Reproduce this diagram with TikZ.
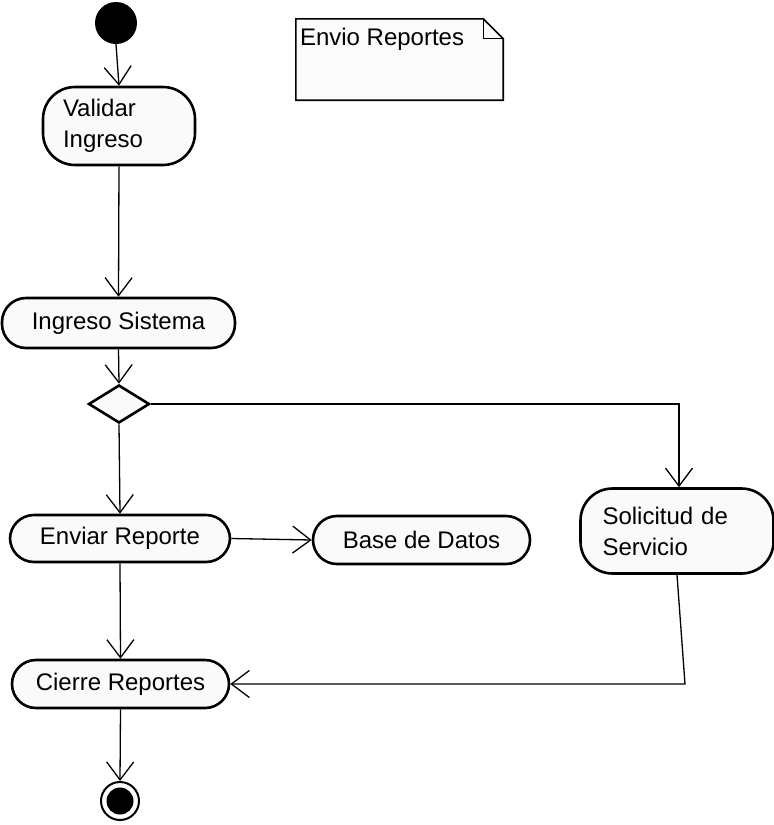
\documentclass[tikz,border=0pt]{standalone}
\usepackage{fontspec}
\setmainfont{Liberation Sans}
\usetikzlibrary{arrows.meta,shapes.geometric,calc}
\begin{document}
\begin{tikzpicture}[x=1pt,y=-1pt,
  font=\fontsize{24}{31}\selectfont,
  act/.style={draw=black, line width=2.6pt, fill=gray!4, rounded corners=24pt,
    inner sep=0pt, align=center},
  actl/.style={act, align=left, inner xsep=20pt, rounded corners=32pt},
  flow/.style={line width=1.3pt, -{Straight Barb[length=18pt,width=27pt,line width=1.3pt]}},
  plain/.style={line width=1.3pt}]
\useasboundingbox (0,0) rectangle (774,825);

% initial and final states
\node[circle, fill=black, minimum size=42pt, inner sep=0pt] (start) at (116,23) {};
\node[circle, draw=black, line width=2pt, minimum size=38pt, inner sep=0pt] (stop) at (120,801) {};
\node[circle, fill=black, minimum size=27pt, inner sep=0pt] (stopdot) at (120,801) {};

% activities
\node[actl, text width=112pt, minimum height=78pt] (validar) at (119,126) {Validar\\Ingreso};
\node[act, minimum width=233pt, minimum height=50pt] (ingreso) at (118.5,323) {Ingreso Sistema};
\node[diamond, draw=black, line width=2.6pt, fill=gray!4, minimum width=61pt, minimum height=38pt, inner sep=0pt, aspect=1.6] (dec) at (119,404) {};
\node[act, minimum width=220pt, minimum height=47pt] (enviar) at (120,538.5) {Enviar Reporte};
\node[act, minimum width=217pt, minimum height=48pt] (base) at (421.5,540) {Base de Datos};
\node[actl, inner xsep=22pt, text width=149pt, minimum height=85pt] (solicitud) at (677,531) {Solicitud de\\Servicio};
\node[act, minimum width=217pt, minimum height=48pt] (cierre) at (120.5,684) {Cierre Reportes};

% note
\node[minimum width=207pt, minimum height=81pt, inner sep=0pt] (note) at (399.5,59.5) {};
\draw[line width=1.6pt, fill=gray!3]
  (note.north west) -- ($(note.north east)+(-20,0)$) -- ($(note.north east)+(0,20)$)
  -- (note.south east) -- (note.south west) -- cycle;
\draw[line width=1.3pt] ($(note.north east)+(-20,0)$) -- ($(note.north east)+(-20,20)$) -- ($(note.north east)+(0,20)$);
\node[anchor=north west, inner sep=0pt] (notetext) at ($(note.north west)+(4,9)$) {Envio Reportes};

% control flow
\draw[flow] (start.south) -- (validar.north);
\draw[flow] (validar.south) -- (ingreso.north);
\draw[flow] (ingreso.south) -- (dec.north);
\draw[flow] (dec.east) -| ($(solicitud.north)+(2,0)$);
\draw[flow] (dec.south) -- (enviar.north);
\draw[flow] (enviar.east) -- (base.west);
\draw[flow] (enviar.south) -- (cierre.north);
\coordinate (bend) at (685,684);
\draw[flow] (solicitud.south) -- (bend) -- (cierre.east);
\draw[flow] (cierre.south) -- (stop.north);
\end{tikzpicture}
\end{document}
